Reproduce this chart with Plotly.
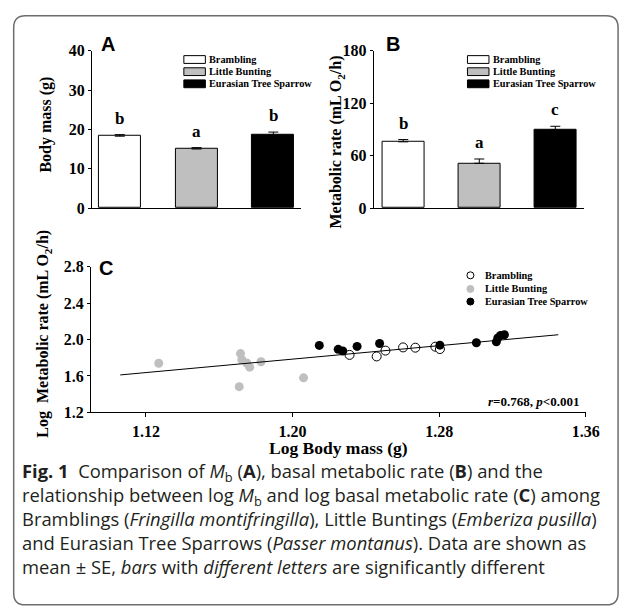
import plotly.graph_objects as go

W, H = 635, 609

# ---------------- data ----------------
species = ["Brambling", "Little Bunting", "Eurasian Tree Sparrow"]
bar_colors = ["#ffffff", "#bfbfbf", "#000000"]

body_mass = [18.3, 15.05, 18.6]
body_mass_se = [0.4, 0.35, 0.75]
body_mass_letters = ["b", "a", "b"]

met_rate = [75.9, 51.4, 89.6]
met_rate_se = [2.6, 4.9, 4.1]
met_rate_letters = ["b", "a", "c"]

brambling_logmb = [1.2311, 1.2459, 1.2507, 1.2603, 1.2670, 1.2779, 1.2804]
brambling_logmr = [1.831, 1.814, 1.878, 1.913, 1.910, 1.921, 1.895]

bunting_logmb = [1.127, 1.1709, 1.1716, 1.1723, 1.1750, 1.1766, 1.1828, 1.2060]
bunting_logmr = [1.739, 1.482, 1.845, 1.778, 1.742, 1.696, 1.756, 1.579]

sparrow_logmb = [1.2146, 1.2249, 1.2274, 1.2352, 1.2475, 1.2804, 1.3003,
                 1.3112, 1.3120, 1.3135, 1.3156]
sparrow_logmr = [1.935, 1.892, 1.874, 1.924, 1.956, 1.938, 1.964,
                 1.974, 2.017, 2.045, 2.052]

fit_logmb = [1.106, 1.345]
fit_logmr = [1.611, 2.052]

ticks_a = [0, 10, 20, 30, 40]
ticks_b = [0, 60, 120, 180]
ticks_cx = [1.12, 1.20, 1.28, 1.36]
ticks_cy = [1.2, 1.6, 2.0, 2.4, 2.8]

# ---------------- helpers ----------------
SERIF = "Liberation Serif, Times New Roman, serif"
SANS = "Liberation Sans, Arial, sans-serif"
CAP = "Open Sans, Noto Sans, sans-serif"


def px(x):
    return x / W


def py(y):
    return 1 - y / H


tickfont = dict(family=SERIF, size=16, color="black", weight="bold")

fig = go.Figure()

# Panel A bars
fig.add_trace(go.Bar(
    x=species, y=body_mass, width=0.548,
    marker=dict(color=bar_colors, line=dict(color="black", width=1)),
    error_y=dict(type="data", symmetric=False, array=body_mass_se,
                 arrayminus=[0] * 3, color="black", thickness=1, width=5),
    xaxis="x", yaxis="y", showlegend=False))

# Panel B bars
fig.add_trace(go.Bar(
    x=species, y=met_rate, width=0.553,
    marker=dict(color=bar_colors, line=dict(color="black", width=1)),
    error_y=dict(type="data", symmetric=False, array=met_rate_se,
                 arrayminus=[0] * 3, color="black", thickness=1, width=5),
    xaxis="x2", yaxis="y2", showlegend=False))

# Panel C scatter
fig.add_trace(go.Scatter(
    x=bunting_logmb, y=bunting_logmr, mode="markers",
    marker=dict(size=9, color="#bfbfbf", line=dict(width=0)),
    xaxis="x3", yaxis="y3", showlegend=False))
fig.add_trace(go.Scatter(
    x=brambling_logmb, y=brambling_logmr, mode="markers",
    marker=dict(size=9, color="white", line=dict(width=1, color="black")),
    xaxis="x3", yaxis="y3", showlegend=False))
fig.add_trace(go.Scatter(
    x=sparrow_logmb, y=sparrow_logmr, mode="markers",
    marker=dict(size=9, color="black", line=dict(width=0)),
    xaxis="x3", yaxis="y3", showlegend=False))
fig.add_trace(go.Scatter(
    x=fit_logmb, y=fit_logmr, mode="lines",
    line=dict(color="black", width=1),
    xaxis="x3", yaxis="y3", showlegend=False))

axis_common = dict(showline=True, linecolor="black", linewidth=1,
                   showgrid=False, zeroline=False, mirror=False)

fig.update_layout(
    width=W, height=H,
    margin=dict(l=0, r=0, t=0, b=0),
    paper_bgcolor="white", plot_bgcolor="white",
    showlegend=False,
    bargap=0,
    xaxis=dict(domain=[px(94), px(308)], anchor="y", range=[-0.363, 2.363],
               showticklabels=False, ticks="", **axis_common),
    yaxis=dict(domain=[py(206), py(44)], anchor="x", range=[0, 40],
               tickvals=ticks_a, ticks="outside", ticklen=3,
               tickcolor="black", tickfont=tickfont, **axis_common),
    xaxis2=dict(domain=[px(382), px(597)], anchor="y2", range=[-0.39, 2.375],
                showticklabels=False, ticks="", **axis_common),
    yaxis2=dict(domain=[py(206), py(44)], anchor="x2", range=[0, 180],
                tickvals=ticks_b, ticks="outside", ticklen=3,
                tickcolor="black", tickfont=tickfont, **axis_common),
    xaxis3=dict(domain=[px(93), px(599)], anchor="y3", range=[1.09, 1.36],
                tickvals=ticks_cx, tickformat=".2f", ticks="outside",
                ticklen=4, tickcolor="black", tickfont=tickfont,
                **axis_common),
    yaxis3=dict(domain=[py(416), py(266)], anchor="x3", range=[1.2, 2.8],
                tickvals=ticks_cy, tickformat=".1f", ticks="outside",
                ticklen=3, tickcolor="black", tickfont=tickfont,
                **axis_common),
)

ann = []
shapes = []

# letters above bars
for xa, ya, vals, ses, letters in (("x", "y", body_mass, body_mass_se, body_mass_letters),
                                   ("x2", "y2", met_rate, met_rate_se, met_rate_letters)):
    for s, v, e, l in zip(species, vals, ses, letters):
        ann.append(dict(xref=xa, yref=ya, x=s, y=v + e, text=l, showarrow=False,
                        yanchor="bottom", yshift=5,
                        font=dict(family=SERIF, size=17, color="black", weight="bold")))

# panel labels
for lab, x, y in (("A", 110, 37), ("B", 402, 37), ("C", 108, 267)):
    ann.append(dict(xref="paper", yref="paper", x=px(x), y=py(y), text=lab,
                    showarrow=False, xanchor="center", yanchor="middle",
                    font=dict(family=SANS, size=20, color="black", weight="bold")))

# axis titles
for txt, x, y, ang, sz in (("Body mass (g)", 47, 120, -90, 16),
                           ("Metabolic rate (mL O<sub>2</sub>/h)", 344, 138, -90, 16),
                           ("Log\u00a0\u00a0Metabolic rate (mL O<sub>2</sub>/h)", 45, 335, -90, 16),
                           ("Log Body mass (g)", 346, 453, 0, 17.5)):
    ann.append(dict(xref="paper", yref="paper", x=px(x), y=py(y), text=txt,
                    showarrow=False, xanchor="center", yanchor="middle",
                    textangle=ang,
                    font=dict(family=SERIF, size=sz, color="black", weight="bold")))

# bar legends (A and B)
leg_font = dict(family=SERIF, size=10.3, color="black", weight="bold")
row_y = [53, 65.5, 78]
for x0 in (188, 478):
    for name, col, yy in zip(species, bar_colors, row_y):
        shapes.append(dict(type="rect", xref="paper", yref="paper",
                           x0=px(x0), x1=px(x0 + 22), y0=py(yy + 4), y1=py(yy - 4),
                           fillcolor=col, line=dict(color="black", width=1)))
        ann.append(dict(xref="paper", yref="paper", x=px(x0 + 24), y=py(yy),
                        text=name, showarrow=False, xanchor="left", yanchor="middle",
                        font=leg_font))

# scatter legend (C)
c_rows = [275, 289, 302]
c_fill = ["white", "#bfbfbf", "black"]
c_line = ["black", "#bfbfbf", "black"]
for name, fc, lc, yy in zip(species, c_fill, c_line, c_rows):
    shapes.append(dict(type="circle", xref="paper", yref="paper",
                       xsizemode="pixel", ysizemode="pixel",
                       xanchor=px(481), yanchor=py(yy),
                       x0=-3.5, x1=3.5, y0=-3.5, y1=3.5,
                       fillcolor=fc, line=dict(color=lc, width=1)))
    ann.append(dict(xref="paper", yref="paper", x=px(494), y=py(yy),
                    text=name, showarrow=False, xanchor="left", yanchor="middle",
                    font=leg_font))

ann.append(dict(xref="paper", yref="paper", x=px(594), y=py(405),
                text="<i>r</i>=0.768, <i>p</i>&lt;0.001", showarrow=False,
                xanchor="right", yanchor="middle",
                font=dict(family=SERIF, size=13, color="black", weight="bold")))

# caption (one multi-line text block)
cap_lines = [
    "<b>Fig. 1</b>\u00a0 Comparison of <i>M</i><sub>b</sub> (<b>A</b>), basal metabolic rate (<b>B</b>) and the",
    "relationship between log <i>M</i><sub>b</sub> and log basal metabolic rate (<b>C</b>) among",
    "Bramblings (<i>Fringilla montifringilla</i>), Little Buntings (<i>Emberiza pusilla</i>)",
    "and Eurasian Tree Sparrows (<i>Passer montanus</i>). Data are shown as",
    "mean \u00b1 SE, <i>bars</i> with <i>different letters</i> are significantly different",
]
ann.append(dict(xref="paper", yref="paper", x=px(20), y=py(461),
                text="<br>".join(cap_lines), showarrow=False,
                xanchor="left", yanchor="top", align="left",
                font=dict(family=CAP, size=18.4, color="#231f20")))

# rounded card border
L, T, R, B, r = 14, 8, 632, 614, 12
path = (f"M {px(L)},{py(T + r)} Q {px(L)},{py(T)} {px(L + r)},{py(T)} "
        f"L {px(R - r)},{py(T)} Q {px(R)},{py(T)} {px(R)},{py(T + r)} "
        f"L {px(R)},{py(B - r)} Q {px(R)},{py(B)} {px(R - r)},{py(B)} "
        f"L {px(L + r)},{py(B)} Q {px(L)},{py(B)} {px(L)},{py(B - r)} Z")
shapes.append(dict(type="path", xref="paper", yref="paper", path=path,
                   line=dict(color="#6d6d6d", width=1.5), fillcolor="rgba(0,0,0,0)"))

fig.update_layout(annotations=ann, shapes=shapes)

fig.write_html("out.html", config={"displayModeBar": False},
               post_script="document.body.style.margin='0';")
